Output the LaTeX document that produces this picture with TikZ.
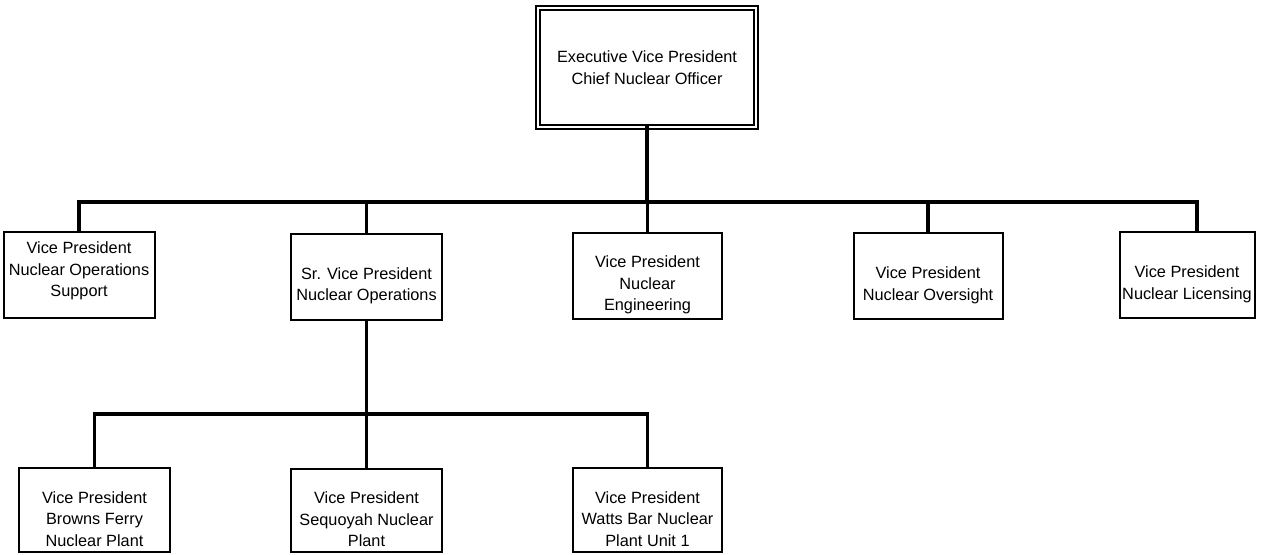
\documentclass[tikz,border=0pt]{standalone}
\usepackage{fontspec}
\setmainfont{Liberation Sans}
\newcommand\lowr{\rule{0pt}{30pt}}
\newcommand\upr{\rule[-10pt]{0pt}{0pt}}
\begin{document}
\begin{tikzpicture}[x=1pt,y=-1pt,
  box/.style={draw, line width=2pt, align=center, inner sep=0pt,
    minimum width=151pt, minimum height=86pt,
    font=\fontsize{16.3pt}{21.5pt}\selectfont},
  topbox/.style={draw, double, line width=1.8pt, double distance=2.4pt,
    align=center, inner sep=0pt, minimum width=218pt, minimum height=119pt,
    font=\fontsize{16.3pt}{21.5pt}\selectfont},
  conn/.style={line width=3.3pt, line cap=rect}]
\useasboundingbox (0,0) rectangle (1271,554);
\node[topbox] (evp) at (647,67.5) {Executive Vice President\\Chief Nuclear Officer};
% level 2
\node[box] (sup) at (79,274.5) {Vice President\\Nuclear Operations\\Support\upr};
\node[box] (srvp) at (366.5,276.5) {\lowr Sr. Vice President\\Nuclear Operations};
\node[box, minimum width=149pt] (eng) at (647.5,276) {\lowr Vice President\\Nuclear\\Engineering};
\node[box, minimum width=149pt] (ovs) at (928,276) {\lowr Vice President\\Nuclear Oversight};
\node[box, minimum width=135pt] (lic) at (1187,275) {\lowr Vice President\\Nuclear Licensing};
% level 3
\node[box, minimum height=84pt] (bf) at (94.5,510) {\lowr Vice President\\Browns Ferry\\Nuclear Plant};
\node[box, minimum height=83pt] (seq) at (366.5,510.5) {\lowr Vice President\\Sequoyah Nuclear\\Plant};
\node[box, minimum width=149pt, minimum height=84pt] (wb) at (647.5,510) {\lowr Vice President\\Watts Bar Nuclear\\Plant Unit 1};
% buses
\coordinate (busL) at (79,202);
\coordinate (busR) at (1197,202);
\coordinate (bus3) at (94.5,414);
% connectors level 1-2
\draw[conn] (evp.south) -- (evp.south |- busL);
\draw[conn] (sup.north) -- (busL) -- (busR) -- (busR |- lic.north);
\draw[conn] (srvp.north) -- (srvp.north |- busL);
\draw[conn] (eng.north) -- (eng.north |- busL);
\draw[conn] (ovs.north) -- (ovs.north |- busL);
% connectors level 2-3
\draw[conn] (srvp.south) -- (seq.north);
\draw[conn] (bf.north) -- (bus3) -- (wb.north |- bus3) -- (wb.north);
\end{tikzpicture}
\end{document}
